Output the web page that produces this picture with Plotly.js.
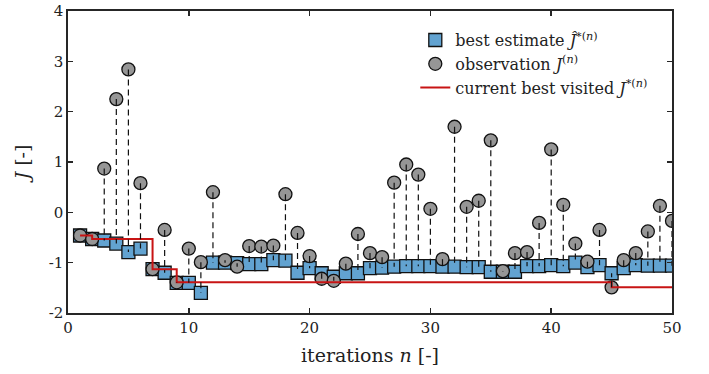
<!DOCTYPE html>
<html>
<head>
<meta charset="utf-8">
<script src="https://cdn.plot.ly/plotly-3.0.1.min.js"></script>
<style>html,body{margin:0;padding:0;background:#fff;}#chart{width:709px;height:374px;}</style>
</head>
<body>
<div id="chart"></div>
<script>
const iterations = [1,2,3,4,5,6,7,8,9,10,11,12,13,14,15,16,17,18,19,20,21,22,23,24,25,26,27,28,29,30,31,32,33,34,35,36,37,38,39,40,41,42,43,44,45,46,47,48,49,50];
const observation = [-0.46,-0.53,0.87,2.25,2.84,0.58,-1.13,-0.35,-1.39,-0.72,-0.99,0.40,-0.95,-1.08,-0.67,-0.68,-0.66,0.36,-0.41,-0.87,-1.32,-1.36,-1.02,-0.43,-0.81,-0.89,0.59,0.95,0.75,0.07,-0.93,1.70,0.11,0.23,1.43,-1.17,-0.81,-0.79,-0.21,1.25,0.15,-0.62,-0.98,-0.35,-1.49,-0.95,-0.81,-0.38,0.13,-0.17];
const bestEstimate = [-0.46,-0.53,-0.56,-0.62,-0.79,-0.72,-1.13,-1.20,-1.40,-1.40,-1.60,-1.00,-1.00,-1.01,-1.03,-1.03,-0.95,-0.96,-1.20,-1.11,-1.21,-1.28,-1.21,-1.21,-1.11,-1.10,-1.08,-1.07,-1.07,-1.07,-1.08,-1.08,-1.09,-1.09,-1.18,-1.18,-1.18,-1.07,-1.07,-1.05,-1.07,-1.00,-1.09,-1.05,-1.21,-1.11,-1.05,-1.06,-1.06,-1.06];
const bestVisited = [-0.46,-0.53,-0.53,-0.53,-0.53,-0.53,-1.13,-1.13,-1.39,-1.39,-1.39,-1.39,-1.39,-1.39,-1.39,-1.39,-1.39,-1.39,-1.39,-1.39,-1.39,-1.39,-1.39,-1.39,-1.39,-1.39,-1.39,-1.39,-1.39,-1.39,-1.39,-1.39,-1.39,-1.39,-1.39,-1.39,-1.39,-1.39,-1.39,-1.39,-1.39,-1.39,-1.39,-1.39,-1.49,-1.49,-1.49,-1.49,-1.49,-1.49];
const xTickVals = [0,10,20,30,40,50];
const xTickText = ['0','10','20','30','40','50'];
const yTickVals = [-2,-1,0,1,2,3,4];
const yTickText = ['-2','-1','0','1','2','3','4'];

const stemX = [], stemY = [];
iterations.forEach((n, i) => { stemX.push(n, n, null); stemY.push(observation[i], bestEstimate[i], null); });

const FONT = "'DejaVu Serif', 'Liberation Serif', serif";
const AX = '#262626';

const traces = [
  {x: iterations, y: bestEstimate, type: 'scatter', mode: 'markers', name: 'best estimate <i>Ĵ</i><sup>*(<i>n</i>)</sup>',
   marker: {symbol: 'square', size: 13, color: '#62a3d1', line: {color: '#111', width: 1.3}}},
  {x: iterations, y: observation, type: 'scatter', mode: 'markers', name: 'observation <i>J</i><sup>(<i>n</i>)</sup>',
   marker: {symbol: 'circle', size: 13, color: '#969696', line: {color: '#111', width: 1.3}}},
  {x: iterations, y: bestVisited, type: 'scatter', mode: 'lines', name: 'current best visited <i>J</i><sup>*(<i>n</i>)</sup>',
   line: {color: '#c81414', width: 2, shape: 'hv'}},
  {x: stemX, y: stemY, type: 'scatter', mode: 'lines', showlegend: false, hoverinfo: 'skip', connectgaps: false,
   line: {color: '#111', width: 1.2, dash: '6px,4px'}}
];

const layout = {
  width: 709, height: 374,
  margin: {l: 68, r: 37, t: 11, b: 61},
  paper_bgcolor: '#fff', plot_bgcolor: '#fff',
  font: {family: FONT, size: 15, color: '#222'},
  showlegend: true,
  legend: {x: 0.575, y: 0.96, xanchor: 'left', yanchor: 'top', bgcolor: 'rgba(255,255,255,0)', borderwidth: 0,
           font: {family: FONT, size: 16, color: '#222'}, tracegroupgap: 0, itemwidth: 30},
  xaxis: {range: [0, 50], tickvals: xTickVals, ticktext: xTickText, showgrid: false, zeroline: false,
          showline: true, mirror: 'ticks', linecolor: AX, linewidth: 1.6, ticks: 'inside', ticklen: 5, tickwidth: 1.6, tickcolor: AX,
          tickfont: {family: FONT, size: 15, color: '#222'},
          title: {text: 'iterations <i>n</i> [-]', font: {family: FONT, size: 19, color: '#222'}, standoff: 13}},
  yaxis: {range: [-2, 4], tickvals: yTickVals, ticktext: yTickText, showgrid: false, zeroline: false,
          showline: true, mirror: 'ticks', linecolor: AX, linewidth: 1.6, ticks: 'inside', ticklen: 5, tickwidth: 1.6, tickcolor: AX,
          tickfont: {family: FONT, size: 15, color: '#222'},
          title: {text: '<i>J</i> [-]', font: {family: FONT, size: 19, color: '#222'}, standoff: 14}}
};

Plotly.newPlot('chart', traces, layout, {displayModeBar: false, staticPlot: true});
</script>
</body>
</html>
